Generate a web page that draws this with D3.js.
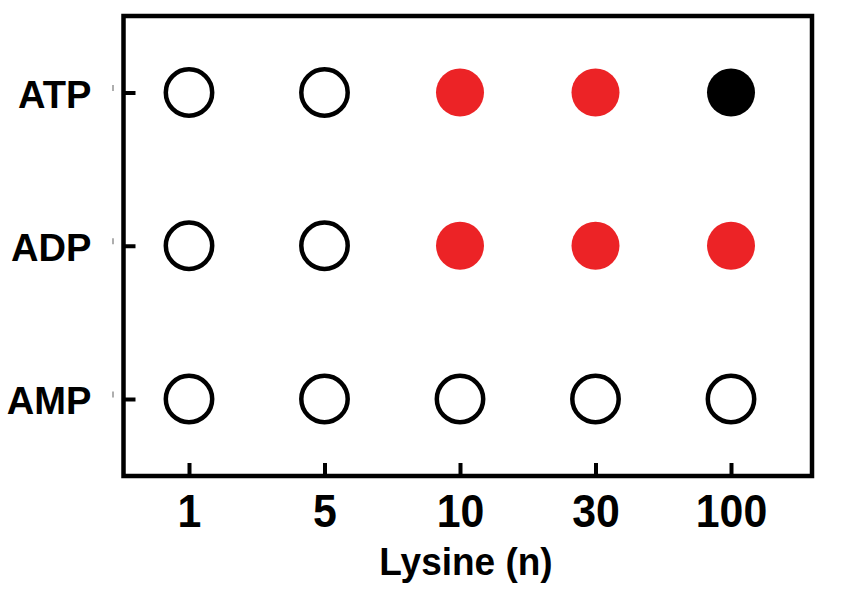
<!DOCTYPE html>
<html>
<head>
<meta charset="utf-8">
<script src="https://cdn.jsdelivr.net/npm/d3@7/dist/d3.min.js"></script>
<style>
  html, body { margin: 0; padding: 0; background: #fff; }
  svg { display: block; }
  text { font-family: "Liberation Sans", Arial, sans-serif; font-weight: bold; fill: #000; }
</style>
</head>
<body>
<svg id="chart" width="846" height="615"></svg>
<script>
// ---- data ----
const lysineLengths = ["1", "5", "10", "30", "100"];
const nucleotides = ["ATP", "ADP", "AMP"];
// state per (nucleotide, lysine length): 0 = open, 1 = red filled, 2 = black filled
const atpStates = [0, 0, 1, 1, 2];
const adpStates = [0, 0, 1, 1, 1];
const ampStates = [0, 0, 0, 0, 0];
const xTitle = "Lysine (n)";

const stateRows = { ATP: atpStates, ADP: adpStates, AMP: ampStates };
const points = [];
nucleotides.forEach(nt => {
  stateRows[nt].forEach((s, i) => points.push({ nt, n: lysineLengths[i], state: s }));
});

// ---- layout ----
const svg = d3.select("#chart");
const box = { left: 123.5, right: 812, top: 16, bottom: 476 };
const x = d3.scalePoint().domain(lysineLengths).range([189, 731]);
const y = d3.scalePoint().domain(nucleotides).range([92.5, 399]);

// frame
svg.append("rect")
  .attr("x", box.left).attr("y", box.top)
  .attr("width", box.right - box.left).attr("height", box.bottom - box.top)
  .attr("fill", "none").attr("stroke", "#000").attr("stroke-width", 4.5);

// x axis (inward ticks)
const xAxis = svg.append("g")
  .attr("transform", `translate(0,${box.bottom})`)
  .call(d3.axisBottom(x).tickSize(-13).tickSizeOuter(0));
xAxis.select(".domain").remove();
xAxis.selectAll(".tick line").attr("stroke", "#000").attr("stroke-width", 4);
xAxis.selectAll(".tick text")
  .attr("y", 0).attr("dy", 0)
  .attr("transform", "translate(0,51) scale(1.02,1.12)")
  .attr("text-anchor", "middle")
  .style("font-size", "42px");

// y axis (inward ticks)
const yAxis = svg.append("g")
  .attr("transform", `translate(${box.left},0)`)
  .call(d3.axisLeft(y).tickSize(-12).tickSizeOuter(0));
yAxis.select(".domain").remove();
yAxis.selectAll(".tick line").attr("stroke", "#000").attr("stroke-width", 4);
yAxis.selectAll(".tick text")
  .attr("x", 0).attr("dy", 0)
  .attr("transform", "translate(-32,14.5) scale(1.03,1.06)")
  .attr("text-anchor", "end")
  .style("font-size", "37px");
// faint small outer marks next to the y ticks
yAxis.selectAll(".tick").append("line")
  .attr("x1", -10.5).attr("x2", -10.5).attr("y1", -8).attr("y2", -2)
  .attr("stroke", "#9a9a9a").attr("stroke-width", 1.6);

// x title
svg.append("text")
  .attr("transform", "translate(466,575) scale(1,1.05)")
  .attr("text-anchor", "middle")
  .style("font-size", "37px")
  .text(xTitle);

// points
const fillFor = s => s === 0 ? "#fff" : (s === 1 ? "#ec2326" : "#000");
svg.append("g").selectAll("circle").data(points).join("circle")
  .attr("cx", d => x(d.n))
  .attr("cy", d => y(d.nt))
  .attr("r", d => d.state === 0 ? 23.2 : 24)
  .attr("fill", d => fillFor(d.state))
  .attr("stroke", d => d.state === 0 ? "#000" : "none")
  .attr("stroke-width", 4.5);
</script>
</body>
</html>
